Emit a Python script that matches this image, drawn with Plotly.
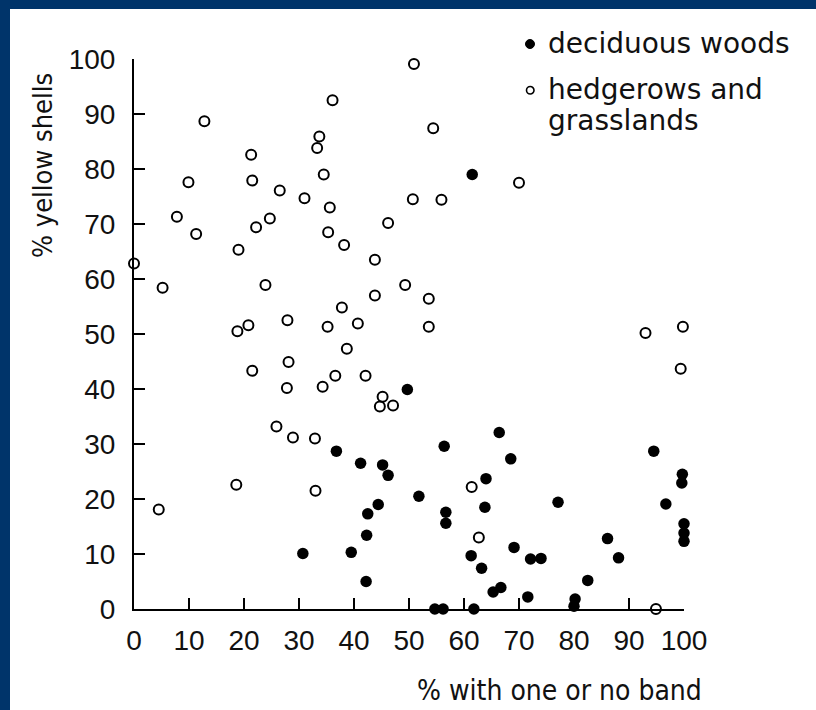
import plotly.graph_objects as go

# Deciduous woods (filled circles)
wood_x = [30.7, 36.8, 39.5, 41.2, 42.2, 42.3, 42.5, 44.4, 45.2, 46.2, 49.7, 51.8, 54.7, 56.2,
          56.4, 56.7, 56.7, 61.3, 61.5, 61.8, 63.2, 63.8, 64.0, 65.3, 66.4, 66.7, 68.5, 69.1,
          71.6, 72.1, 74.0, 77.1, 80.2, 80.0, 82.5, 86.1, 88.1, 94.5, 96.7, 99.7, 99.6, 100.0,
          100.0, 100.0]
wood_y = [10.1, 28.7, 10.3, 26.5, 5.0, 13.4, 17.3, 19.0, 26.2, 24.3, 39.9, 20.5, 0.0, 0.0,
          29.6, 17.6, 15.6, 9.7, 79.0, 0.0, 7.4, 18.5, 23.7, 3.1, 32.1, 3.9, 27.3, 11.2,
          2.2, 9.1, 9.2, 19.4, 1.8, 0.5, 5.2, 12.8, 9.3, 28.7, 19.1, 24.5, 22.9, 15.5,
          13.8, 12.3]

# Hedgerows and grasslands (open circles)
hedge_x = [0.0, 4.5, 5.2, 7.8, 9.9, 11.3, 12.8, 18.6, 18.8, 19.0, 20.8, 21.3, 21.5, 21.5,
           22.2, 23.9, 24.7, 25.9, 26.5, 27.9, 28.1, 27.8, 28.9, 31.0, 32.9, 33.0, 33.3, 33.7,
           34.3, 34.5, 35.2, 35.3, 35.6, 36.1, 36.6, 37.8, 38.2, 38.7, 40.7, 42.1, 43.8, 43.8,
           44.7, 45.2, 46.2, 47.1, 49.3, 50.7, 50.9, 53.6, 53.6, 54.4, 55.9, 61.4, 62.7, 70.0,
           93.0, 99.4, 99.8, 94.9]
hedge_y = [62.8, 18.1, 58.4, 71.3, 77.6, 68.2, 88.7, 22.6, 50.5, 65.3, 51.6, 82.6, 77.9, 43.3,
           69.4, 58.9, 71.0, 33.2, 76.1, 52.5, 44.9, 40.2, 31.2, 74.7, 31.0, 21.5, 83.8, 85.9,
           40.4, 79.0, 51.3, 68.5, 73.0, 92.5, 42.4, 54.8, 66.2, 47.3, 51.9, 42.4, 63.5, 57.0,
           36.8, 38.6, 70.2, 37.0, 58.9, 74.5, 99.1, 56.4, 51.3, 87.4, 74.4, 22.2, 13.0, 77.5,
           50.2, 43.7, 51.3, 0.0]

x_ticks = [0, 10, 20, 30, 40, 50, 60, 70, 80, 90, 100]
y_ticks = [0, 10, 20, 30, 40, 50, 60, 70, 80, 90, 100]

x_title = "% with one or no band"
y_title = "% yellow shells"
legend_labels = ["deciduous woods", "hedgerows and", "grasslands"]

# Layout geometry (pixels)
W, H = 816, 710
L, T, PW, PH = 134, 59, 550, 550
BLUE = "#00346a"
TXT = "#111111"
TICKFONT = dict(family="Liberation Sans, Arial, sans-serif", size=28, color=TXT)
LABFONT_FAMILY = "DejaVu Sans Condensed, DejaVu Sans, sans-serif"
LEGFONT_FAMILY = "DejaVu Sans, sans-serif"


def px(x):
    return (x - L) / PW


def py(y):
    return (T + PH - y) / PH


fig = go.Figure()
fig.add_trace(go.Scatter(
    x=hedge_x, y=hedge_y, mode="markers", name="hedgerows and grasslands",
    marker=dict(symbol="circle-open", size=10, color="black", line=dict(width=2, color="black")),
    cliponaxis=False, showlegend=False, hoverinfo="x+y"))
fig.add_trace(go.Scatter(
    x=wood_x, y=wood_y, mode="markers", name="deciduous woods",
    marker=dict(symbol="circle", size=11.5, color="black"),
    cliponaxis=False, showlegend=False, hoverinfo="x+y"))

axis_common = dict(
    range=[0, 100], ticks="inside", ticklen=11, tickwidth=2, tickcolor="black",
    showline=True, linewidth=2, linecolor="black", showgrid=False, zeroline=False,
    tickfont=TICKFONT, fixedrange=True,
)
fig.update_xaxes(tickvals=x_ticks, ticktext=[str(v) for v in x_ticks], ticklabelstandoff=5, **axis_common)
fig.update_yaxes(tickvals=y_ticks, ticktext=[str(v) for v in y_ticks], ticklabelstandoff=11, **axis_common)

shapes = [
    # blue frame (top and left)
    dict(type="rect", xref="paper", yref="paper", x0=px(0), x1=px(W), y0=py(9), y1=py(0),
         fillcolor=BLUE, line=dict(width=0), layer="above"),
    dict(type="rect", xref="paper", yref="paper", x0=px(0), x1=px(10), y0=py(H), y1=py(0),
         fillcolor=BLUE, line=dict(width=0), layer="above"),
    # legend symbols
    dict(type="circle", xref="paper", yref="paper", x0=px(525.5), x1=px(534.5), y0=py(48.5), y1=py(39.5),
         fillcolor="black", line=dict(width=1, color="black")),
    dict(type="circle", xref="paper", yref="paper", x0=px(526.5), x1=px(534), y0=py(94), y1=py(86.5),
         fillcolor="white", line=dict(width=1.6, color="black")),
]

annotations = [
    dict(text=x_title, xref="paper", yref="paper", x=px(704), y=py(690), xanchor="right", yanchor="middle",
         showarrow=False, font=dict(family=LABFONT_FAMILY, size=28, color=TXT)),
    dict(text=y_title, xref="paper", yref="paper", x=px(42), y=py(166), xanchor="center", yanchor="middle",
         textangle=-90, showarrow=False, font=dict(family=LABFONT_FAMILY, size=27, color=TXT)),
    dict(text=legend_labels[0], xref="paper", yref="paper", x=px(546), y=py(44), xanchor="left", yanchor="middle",
         showarrow=False, font=dict(family=LEGFONT_FAMILY, size=28, color=TXT)),
    dict(text=legend_labels[1], xref="paper", yref="paper", x=px(546), y=py(89), xanchor="left", yanchor="middle",
         showarrow=False, font=dict(family=LEGFONT_FAMILY, size=28, color=TXT)),
    dict(text=legend_labels[2], xref="paper", yref="paper", x=px(546), y=py(121), xanchor="left", yanchor="middle",
         showarrow=False, font=dict(family=LEGFONT_FAMILY, size=28, color=TXT)),
]

fig.update_layout(
    width=W, height=H,
    margin=dict(l=L, r=W - L - PW, t=T, b=H - T - PH, pad=0),
    paper_bgcolor="white", plot_bgcolor="white",
    shapes=shapes, annotations=annotations, showlegend=False,
)

fig.write_html("out.html")
